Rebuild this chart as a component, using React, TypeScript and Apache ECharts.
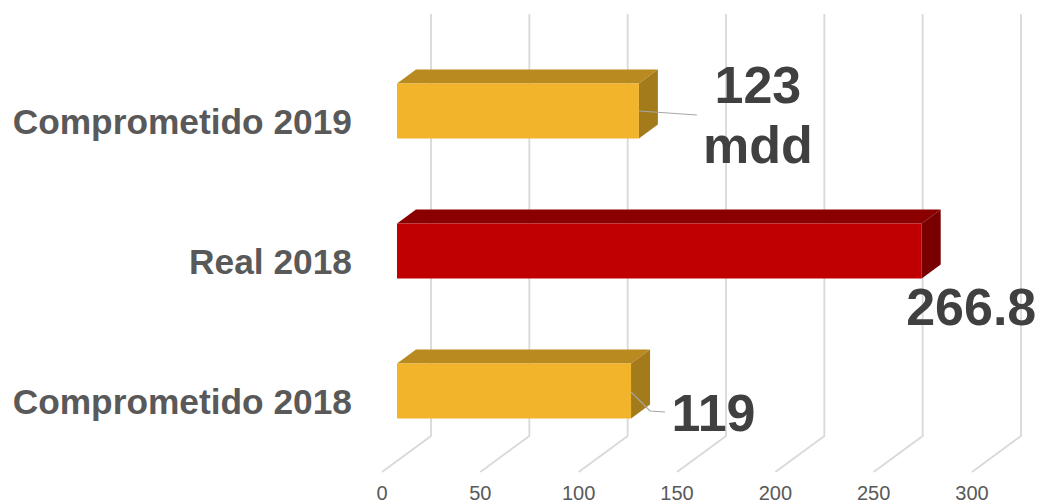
import React, { useEffect, useRef } from "react";
import * as echarts from "echarts";

const categories = ["Comprometido 2018", "Real 2018", "Comprometido 2019"];
const values = [119, 266.8, 123];
const valueLabels = ["119", "266.8", "123\nmdd"];
const tickValues = [0, 50, 100, 150, 200, 250, 300];

const frontColors = ["#F2B42A", "#C00000", "#F2B42A"];
const topColors = ["#B88A20", "#8A0000", "#B88A20"];
const sideColors = ["#A37B1B", "#780000", "#A37B1B"];

// Label placement relative to the bar end / bar centre: [dx, dy]
const labelOffsets = [[82.5, 22], [49.5, 56], [119, 4]];
// Leader lines relative to the bar end / bar centre
const leaderOffsets: number[][][] = [
  [[0, 1], [19, 20], [34, 21]],
  [],
  [[0, 0], [58, 4]],
];

const BAR_W = 55;
const SHIFT = 15;
const DX = 19;
const DY = -14;

export default function App() {
  const ref = useRef<HTMLDivElement>(null);
  useEffect(() => {
    document.body.style.margin = "0";
    const chart = echarts.init(ref.current!, undefined, { renderer: "svg" });
    chart.setOption({
      animation: false,
      backgroundColor: "#ffffff",
      grid: {
        left: 382,
        width: 590,
        top: 41,
        height: 420,
        containLabel: false,
        outerBoundsMode: "none",
      },
      xAxis: {
        type: "value",
        min: 0,
        max: 300,
        interval: 50,
        axisLine: { show: false },
        axisTick: { show: false },
        splitLine: { show: false },
        axisLabel: {
          margin: 22,
          fontSize: 20,
          lineHeight: 19,
          color: "#595959",
          fontFamily: "Liberation Sans",
        },
      },
      yAxis: {
        type: "category",
        data: categories,
        axisLine: { show: false },
        axisTick: { show: false },
        splitLine: { show: false },
        axisLabel: {
          margin: 30,
          fontSize: 35.3,
          fontWeight: "bold",
          color: "#595959",
          fontFamily: "Liberation Sans",
          verticalAlign: "top",
          lineHeight: 20,
        },
      },
      series: [
        {
          type: "custom",
          silent: true,
          clip: false,
          z: 1,
          encode: { x: 0 },
          data: tickValues.map((v) => [v]),
          renderItem: (params: any, api: any) => {
            const x = api.coord([api.value(0), 0])[0];
            const cs = params.coordSys;
            const bottom = cs.y + cs.height;
            return {
              type: "polyline",
              shape: {
                points: [
                  [x, bottom + 11],
                  [x + 49, bottom - 25],
                  [x + 49, cs.y - 27],
                ],
              },
              style: { fill: "none", stroke: "#D9D9D9", lineWidth: 1.8 },
            };
          },
        },
        {
          type: "custom",
          clip: false,
          z: 2,
          encode: { x: 0, y: 1 },
          data: values.map((v, i) => [v, i]),
          renderItem: (_p: any, api: any) => {
            const i = api.value(1);
            const [x0, yc] = api.coord([0, i]);
            const x1 = api.coord([api.value(0), i])[0];
            const l = x0 + SHIFT;
            const r = x1 + SHIFT;
            const t = yc - BAR_W / 2;
            const b = yc + BAR_W / 2;
            const children: any[] = [
              {
                type: "polygon",
                shape: { points: [[l, t], [l + DX, t + DY], [r + DX, t + DY], [r, t]] },
                style: { fill: topColors[i] },
              },
              {
                type: "polygon",
                shape: { points: [[r, t], [r + DX, t + DY], [r + DX, b + DY], [r, b]] },
                style: { fill: sideColors[i] },
              },
              {
                type: "rect",
                shape: { x: l, y: t, width: r - l, height: b - t },
                style: { fill: frontColors[i] },
              },
            ];
            if (leaderOffsets[i].length) {
              children.push({
                type: "polyline",
                shape: { points: leaderOffsets[i].map(([dx, dy]) => [r + dx, yc + dy]) },
                style: { fill: "none", stroke: "#A6A6A6", lineWidth: 1.2 },
              });
            }
            children.push({
              type: "text",
              style: {
                text: valueLabels[i],
                x: r + labelOffsets[i][0],
                y: yc + labelOffsets[i][1],
                align: "center",
                verticalAlign: "middle",
                fontFamily: "Liberation Sans",
                fontWeight: "bold",
                fontSize: 52,
                lineHeight: 60,
                fill: "#404040",
              },
            });
            return { type: "group", children };
          },
        },
      ],
    });
    return () => chart.dispose();
  }, []);
  return <div ref={ref} style={{ position: "absolute", left: 0, top: 0, width: 1038, height: 502 }} />;
}
